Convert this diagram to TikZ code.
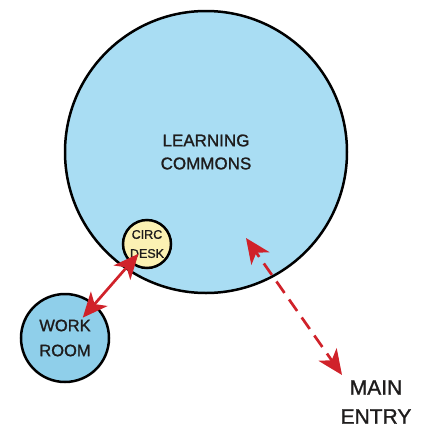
\documentclass[tikz,border=0pt]{standalone}
\usepackage{fontspec}
\setmainfont{Liberation Sans}[RawFeature={embolden=1.2}]
\usetikzlibrary{arrows.meta}
\definecolor{commonsblue}{HTML}{A9DDF3}
\definecolor{workblue}{HTML}{8FCFEA}
\definecolor{deskyellow}{HTML}{FBF1B3}
\definecolor{arrowred}{HTML}{D0222A}
\definecolor{textgray}{HTML}{1E1C1C}
\begin{document}
\begin{tikzpicture}[x=1pt,y=-1pt,
  room/.style={circle,draw=black,line width=2.5pt,inner sep=0pt,align=center,text=textgray},
  redline/.style={draw=arrowred,line width=2.7pt},
  bighead/.tip={Stealth[length=25pt,width=22pt,inset=7pt]}]
\useasboundingbox (0,0) rectangle (426,429);
\fill[white] (0,0) rectangle (426,429);
\node[room, fill=commonsblue, minimum size=282pt, font=\fontsize{17}{23}\selectfont] (commons) at (206,152) {LEARNING\\COMMONS};
\node[room, fill=deskyellow, minimum size=48pt, font=\fontsize{12.5}{19}\selectfont] (desk) at (147,244) {CIRC\\DESK};
\node[room, fill=workblue, minimum size=88pt, font=\fontsize{16.5}{25}\selectfont] (work) at (65,338) {WORK\\ROOM};
\node[text=textgray, align=center, font=\fontsize{21}{29}\selectfont] (entry) at (376,402) {MAIN\\ENTRY};
\coordinate (inner) at (246,238);
\coordinate (door) at (342,375);
\draw[redline, {bighead}-{bighead}, shorten <=13pt, shorten >=27pt] (desk.center) -- (work.center);
\draw[redline, {bighead}-{bighead}, dash pattern=on 14pt off 8pt, dash phase=8pt] (inner) -- (door);
\end{tikzpicture}
\end{document}
